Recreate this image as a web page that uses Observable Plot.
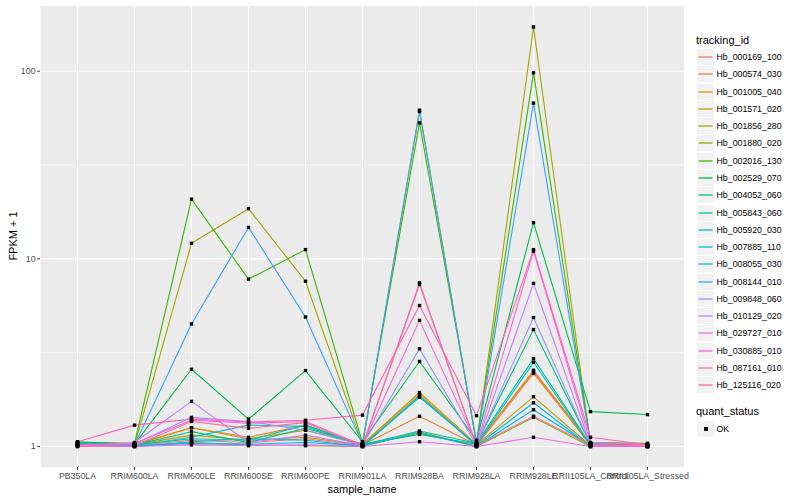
<!DOCTYPE html>
<html>
<head>
<meta charset="utf-8">
<script src="https://cdn.jsdelivr.net/npm/d3@7"></script>
<script src="https://cdn.jsdelivr.net/npm/@observablehq/plot@0.6"></script>
<style>
  html, body { margin: 0; padding: 0; background: white; }
  #wrap { position: relative; width: 800px; height: 500px; font-family: "Liberation Sans", Arial, Helvetica, sans-serif; }
  #chart { position: absolute; left: 0; top: 0; }
  .t { position: absolute; white-space: nowrap; color: black; }
  .key { position: absolute; width: 17px; height: 16px; background: #F2F2F2; }
  .key svg { position: absolute; left: 0; top: 0; }
  .lab { position: absolute; font-size: 8.8px; color: black; line-height: 10px; white-space: nowrap; }
</style>
</head>
<body>
<div id="wrap"><div id="chart"></div></div>
<script>
const samples = ["PB350LA","RRIM600LA","RRIM600LE","RRIM600SE","RRIM600PE","RRIM901LA","RRIM928BA","RRIM928LA","RRIM928LE","RRII105LA_Control","RRII105LA_Stressed"];

const trackingIds = ["Hb_000169_100","Hb_000574_030","Hb_001005_040","Hb_001571_020","Hb_001856_280","Hb_001880_020","Hb_002016_130","Hb_002529_070","Hb_004052_060","Hb_005843_060","Hb_005920_030","Hb_007885_110","Hb_008055_030","Hb_008144_010","Hb_009848_060","Hb_010129_020","Hb_029727_010","Hb_030885_010","Hb_087161_010","Hb_125116_020"];

const trackingColors = ["#F8766D","#EA8331","#D89000","#C09B00","#A3A500","#7CAE00","#39B600","#00BB4E","#00BF7D","#00C1A3","#00BFC4","#00BAE0","#00B0F6","#35A2FF","#9590FF","#C77CFF","#E76BF3","#FA62DB","#FF62BC","#FF6C91"];

// FPKM + 1, one row per tracking_id, columns follow `samples`
const fpkmPlusOne = [
  [1.02, 1.01, 1.08, 1.05, 1.10, 1.01, 1.18, 1.01, 2.45, 1.02, 1.01],
  [1.01, 1.02, 1.26, 1.12, 1.30, 1.02, 1.45, 1.02, 2.55, 1.03, 1.01],
  [1.03, 1.03, 1.26, 1.10, 1.22, 1.03, 1.94, 1.03, 2.50, 1.02, 1.02],
  [1.02, 1.02, 1.15, 1.08, 1.12, 1.02, 1.89, 1.02, 1.84, 1.01, 1.01],
  [1.04, 1.01, 12.1, 18.5, 7.6, 1.02, 62.0, 1.03, 172, 1.03, 1.01],
  [1.03, 1.00, 1.05, 1.02, 1.01, 1.00, 1.20, 1.00, 1.43, 1.00, 1.00],
  [1.05, 1.04, 20.8, 7.8, 11.2, 1.05, 53.0, 1.06, 98.0, 1.05, 1.04],
  [1.06, 1.03, 2.58, 1.40, 2.54, 1.06, 2.84, 1.08, 15.6, 1.535, 1.48],
  [1.05, 1.02, 1.20, 1.05, 1.25, 1.03, 1.16, 1.03, 4.20, 1.03, 1.02],
  [1.04, 1.02, 1.10, 1.08, 1.30, 1.02, 1.21, 1.04, 2.94, 1.02, 1.01],
  [1.03, 1.01, 1.12, 1.30, 1.28, 1.01, 1.83, 1.02, 2.81, 1.01, 1.00],
  [1.02, 1.00, 1.06, 1.10, 1.08, 1.00, 1.86, 1.01, 1.71, 1.00, 1.00],
  [1.01, 1.01, 1.04, 1.03, 1.05, 1.01, 1.18, 1.00, 1.57, 1.01, 1.00],
  [1.02, 1.02, 4.5, 14.7, 4.9, 1.03, 61.0, 1.04, 67.6, 1.04, 1.02],
  [1.01, 1.03, 1.43, 1.36, 1.22, 1.02, 3.32, 1.02, 4.87, 1.02, 1.01],
  [1.00, 1.05, 1.74, 1.05, 1.15, 1.01, 7.45, 1.01, 7.40, 1.02, 1.01],
  [1.01, 1.00, 1.02, 1.01, 1.02, 1.00, 1.06, 1.00, 1.12, 1.00, 1.00],
  [1.02, 1.04, 1.38, 1.33, 1.36, 1.02, 4.70, 1.03, 11.0, 1.05, 1.02],
  [1.06, 1.30, 1.40, 1.35, 1.38, 1.47, 5.64, 1.46, 11.2, 1.12, 1.02],
  [1.00, 1.01, 1.36, 1.25, 1.34, 1.01, 7.30, 1.01, 1.45, 1.02, 1.01]
];

const yTicks = [1, 10, 100];
const yMinor = [Math.pow(10, 0.5), Math.pow(10, 1.5)];

const data = trackingIds.flatMap((id, i) =>
  samples.map((s, j) => ({ id, sample: s, value: fpkmPlusOne[i][j], status: "OK" })));

const allVals = fpkmPlusOne.flat();
const l0 = Math.log10(d3.min(allVals)), l1 = Math.log10(d3.max(allVals));
const pad = (l1 - l0) * 0.05;
const yDomain = [Math.pow(10, l0 - pad), Math.pow(10, l1 + pad)];

const chart = Plot.plot({
  width: 690,
  height: 500,
  marginLeft: 40,
  marginRight: 6.5,
  marginTop: 5.5,
  marginBottom: 33,
  style: { fontFamily: "Liberation Sans, Arial, Helvetica, sans-serif", background: "white", overflow: "visible" },
  x: { type: "point", domain: samples, padding: 0.6 },
  y: { type: "log", domain: yDomain },
  color: { domain: trackingIds, range: trackingColors },
  marks: [
    Plot.frame({ fill: "#EBEBEB", stroke: null }),
    Plot.gridY(yMinor, { stroke: "white", strokeOpacity: 1, strokeWidth: 0.55 }),
    Plot.gridY(yTicks, { stroke: "white", strokeOpacity: 1, strokeWidth: 1.1 }),
    Plot.gridX(samples, { stroke: "white", strokeOpacity: 1, strokeWidth: 1.1 }),
    Plot.line(data, { x: "sample", y: "value", z: "id", stroke: "id", strokeWidth: 1.1 }),
    Plot.dot(data, { x: "sample", y: "value", symbol: "square", r: 1.9, fill: "black", stroke: null }),
    Plot.axisX({ tickSize: 2.75, tickPadding: 2.2, fontSize: 8.8, stroke: "#333333", fill: "#4D4D4D", label: null }),
    Plot.axisY(yTicks, { tickSize: 2.75, tickPadding: 2.2, fontSize: 8.8, stroke: "#333333", fill: "#4D4D4D", tickFormat: d => String(d), label: null })
  ]
});
document.getElementById("chart").appendChild(chart);

const wrap = document.getElementById("wrap");
const SVGNS = "http://www.w3.org/2000/svg";
function addText(txt, css) {
  const el = document.createElement("div");
  el.className = "t";
  el.textContent = txt;
  Object.assign(el.style, css);
  wrap.appendChild(el);
  return el;
}
// axis titles
addText("sample_name", { left: "362px", top: "483px", fontSize: "11px", transform: "translateX(-50%)" });
addText("FPKM + 1", { left: "12.5px", top: "236px", fontSize: "11px", transform: "translate(-50%,-50%) rotate(-90deg)" });

// legend: tracking_id
addText("tracking_id", { left: "696px", top: "34px", fontSize: "11px" });
const keyTop0 = 49, keyStep = 17.28;
trackingIds.forEach((id, i) => {
  const top = Math.round(keyTop0 + i * keyStep);
  const k = document.createElement("div");
  k.className = "key";
  k.style.left = "697px";
  k.style.top = top + "px";
  const svg = document.createElementNS(SVGNS, "svg");
  svg.setAttribute("width", "17");
  svg.setAttribute("height", "16");
  const ln = document.createElementNS(SVGNS, "line");
  ln.setAttribute("x1", "1.5"); ln.setAttribute("x2", "15.5");
  ln.setAttribute("y1", "8"); ln.setAttribute("y2", "8");
  ln.setAttribute("stroke", trackingColors[i]);
  ln.setAttribute("stroke-width", "1.3");
  svg.appendChild(ln);
  k.appendChild(svg);
  wrap.appendChild(k);
  const lab = document.createElement("div");
  lab.className = "lab";
  lab.textContent = id;
  lab.style.left = "716.5px";
  lab.style.top = (top + 3) + "px";
  wrap.appendChild(lab);
});
// legend: quant_status
addText("quant_status", { left: "696px", top: "405px", fontSize: "11px" });
const qk = document.createElement("div");
qk.className = "key";
qk.style.left = "697px";
qk.style.top = "421px";
const sq = document.createElement("div");
Object.assign(sq.style, { position: "absolute", left: "6.5px", top: "6px", width: "4px", height: "4px", background: "black" });
qk.appendChild(sq);
wrap.appendChild(qk);
const ql = document.createElement("div");
ql.className = "lab";
ql.textContent = "OK";
ql.style.left = "716.5px";
ql.style.top = "424px";
wrap.appendChild(ql);
</script>
</body>
</html>
